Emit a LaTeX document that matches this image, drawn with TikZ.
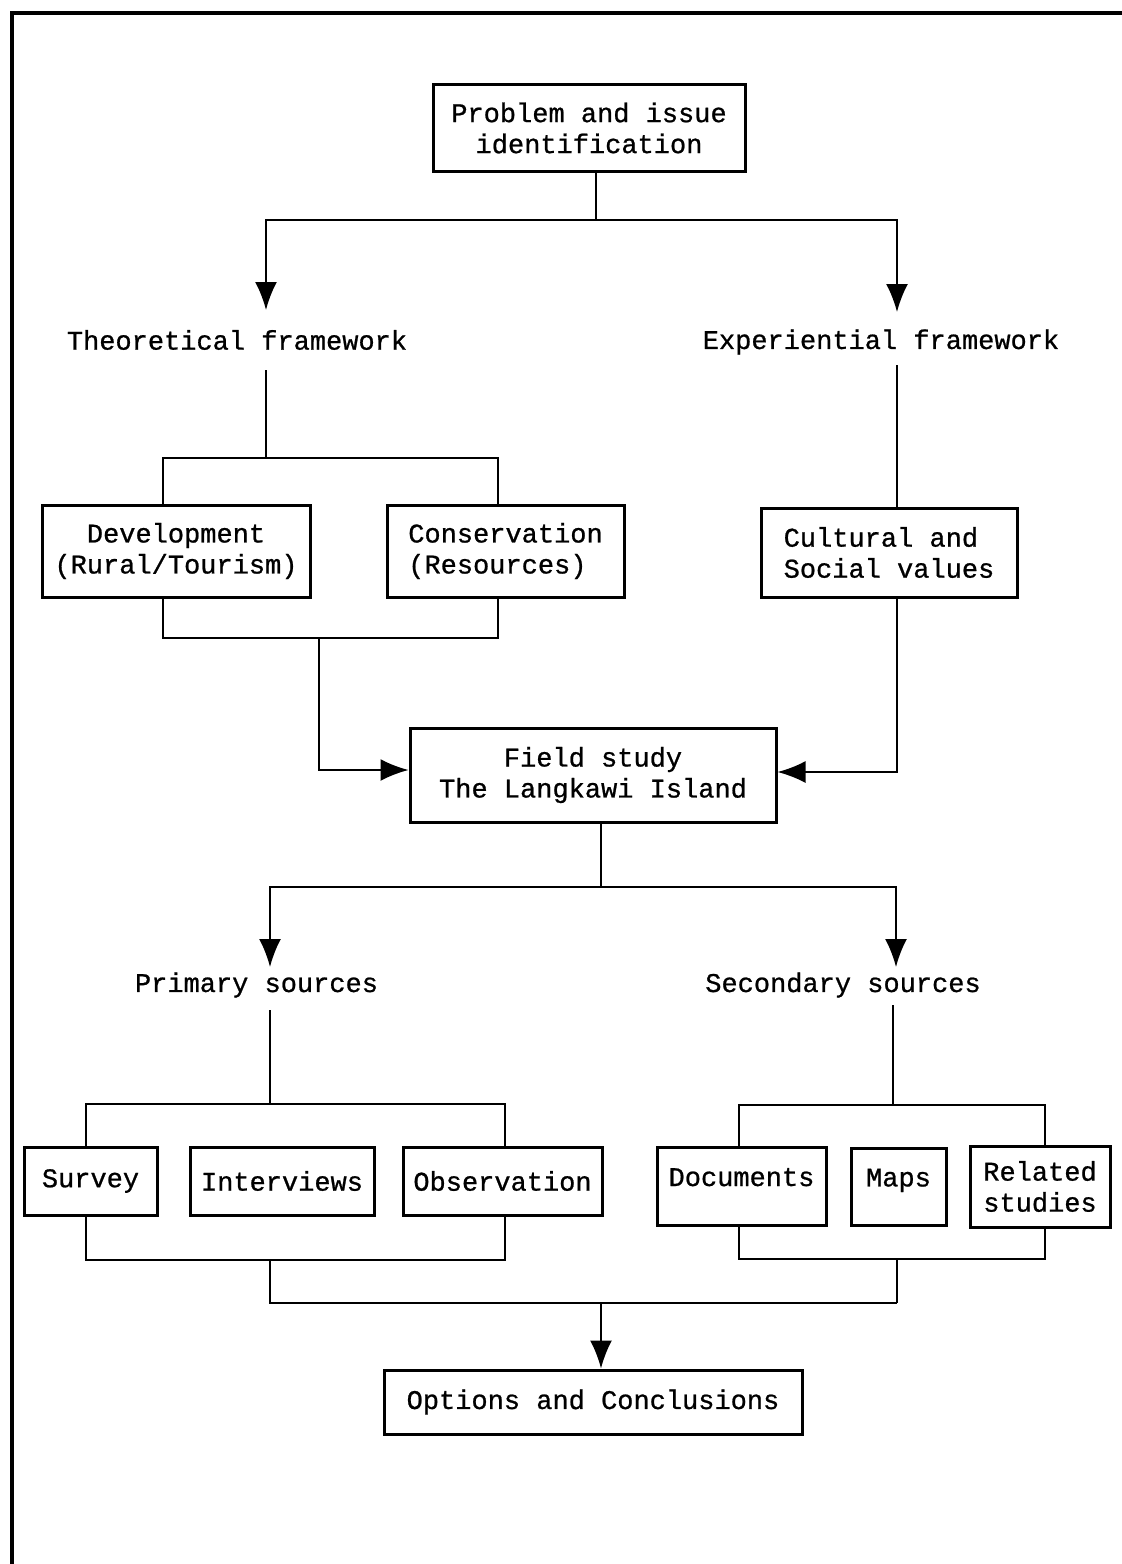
\documentclass[tikz,border=0pt]{standalone}
\usepackage{fontspec}
\setmonofont{Liberation Mono}[FakeBold=0.8]
\usetikzlibrary{arrows.meta}

\begin{document}
\begin{tikzpicture}[x=0.5pt, y=-0.5pt,
  font=\ttfamily\fontsize{13.5}{15.5}\selectfont,
  box/.style={draw, line width=1.5pt, inner sep=0pt},
  lbl/.style={inner sep=0pt},
  line/.style={line width=1pt},
  arr/.style={line width=1pt, -{Latex[length=14pt,width=11pt]}}]
\useasboundingbox (0,0) rectangle (1122,1564);
% page frame
\draw[line width=2pt] (12,1564) -- (12,13) -- (1122,13);

% boxes and labels
\node[box, minimum width=156pt, minimum height=43.5pt, align=center] (prob) at (589,128) {Problem and issue\\identification};
\node[lbl] (theo) at (237,340) {Theoretical framework};
\node[lbl] (exper) at (881,342) {Experiential framework};
\node[box, minimum width=134pt, minimum height=46pt, align=center] (dev) at (176,551) {Development\\(Rural/Tourism)};
\node[box, minimum width=118.5pt, minimum height=46pt, align=left] (cons) at (505.5,551) {Conservation\\(Resources)\hspace{1.2em}};
\node[box, minimum width=128pt, minimum height=44.5pt, align=left] (cult) at (889,552.5) {Cultural and\\Social values};
\node[box, minimum width=183pt, minimum height=47pt, align=center] (field) at (593,775) {Field study\\The Langkawi Island};
\node[lbl] (prim) at (256.5,985) {Primary sources};
\node[lbl] (sec) at (843,985) {Secondary sources};
\node[box, minimum width=66.5pt, minimum height=34pt] (survey) at (90.5,1181) {Survey};
\node[box, minimum width=92pt, minimum height=34pt] (interv) at (282,1181) {Interviews};
\node[box, minimum width=99.5pt, minimum height=34pt] (obs) at (502.5,1181) {Observation};
\node[box, minimum width=84.5pt, minimum height=39pt, text depth=9pt] (docs) at (741.5,1186) {Documents};
\node[box, minimum width=47.5pt, minimum height=38.5pt, text depth=9pt] (maps) at (898.5,1186.5) {Maps};
\node[box, minimum width=70pt, minimum height=40.5pt, align=center] (rel) at (1040,1186.5) {Related\\studies};
\node[box, minimum width=209pt, minimum height=32pt] (opt) at (593,1402) {Options and Conclusions};

% junctions and free ends
\coordinate (j1) at (596,220);
\coordinate (theoIn) at (266,310);
\coordinate (expIn) at (897,312);
\coordinate (theoOut) at (266,370);
\coordinate (j2) at (266,458);
\coordinate (j3) at (319,638);
\coordinate (expOut) at (897,365);
\coordinate (j4) at (601,887);
\coordinate (primIn) at (270,967);
\coordinate (secIn) at (896,967);
\coordinate (primOut) at (270,1010);
\coordinate (j5) at (270,1104);
\coordinate (j6) at (270,1260);
\coordinate (secOut) at (893,1005);
\coordinate (j7) at (893,1105);
\coordinate (j9) at (897,1259);
\coordinate (j10) at (897,1303);
\coordinate (j11) at (601,1303);

% connectors
\draw[line] (prob.south -| j1) -- (j1);
\draw[arr] (j1) -| (theoIn);
\draw[arr] (j1) -| (expIn);
\draw[line] (theoOut) -- (j2);
\draw[line] ([xshift=-6.5pt]dev.north) |- (j2) -| ([xshift=-3.75pt]cons.north);
\draw[line] ([xshift=-6.5pt]dev.south) |- (j3) -| ([xshift=-3.75pt]cons.south);
\draw[arr] (j3) |- ([yshift=2.5pt]field.west);
\draw[line] (expOut) -- ([xshift=4pt]cult.north);
\draw[arr] ([xshift=4pt]cult.south) |- ([yshift=1.5pt]field.east);
\draw[line] ([xshift=4pt]field.south) -- (j4);
\draw[arr] (j4) -| (primIn);
\draw[arr] (j4) -| (secIn);
\draw[line] (primOut) -- (j5);
\draw[line] ([xshift=-2.25pt]survey.north) |- (j5) -| ([xshift=1.25pt]obs.north);
\draw[line] ([xshift=-2.25pt]survey.south) |- (j6) -| ([xshift=1.25pt]obs.south);
\draw[line] (secOut) -- (j7);
\draw[line] ([xshift=-1.25pt]docs.north) |- (j7) -| ([xshift=2.5pt]rel.north);
\draw[line] ([xshift=-1.25pt]docs.south) |- (j9) -| ([xshift=2.5pt]rel.south);
\draw[line] (j9) -- (j10);
\draw[line] (j6) |- (j10);
\draw[arr] (j11) -- ([xshift=4pt]opt.north);
\end{tikzpicture}
\end{document}
